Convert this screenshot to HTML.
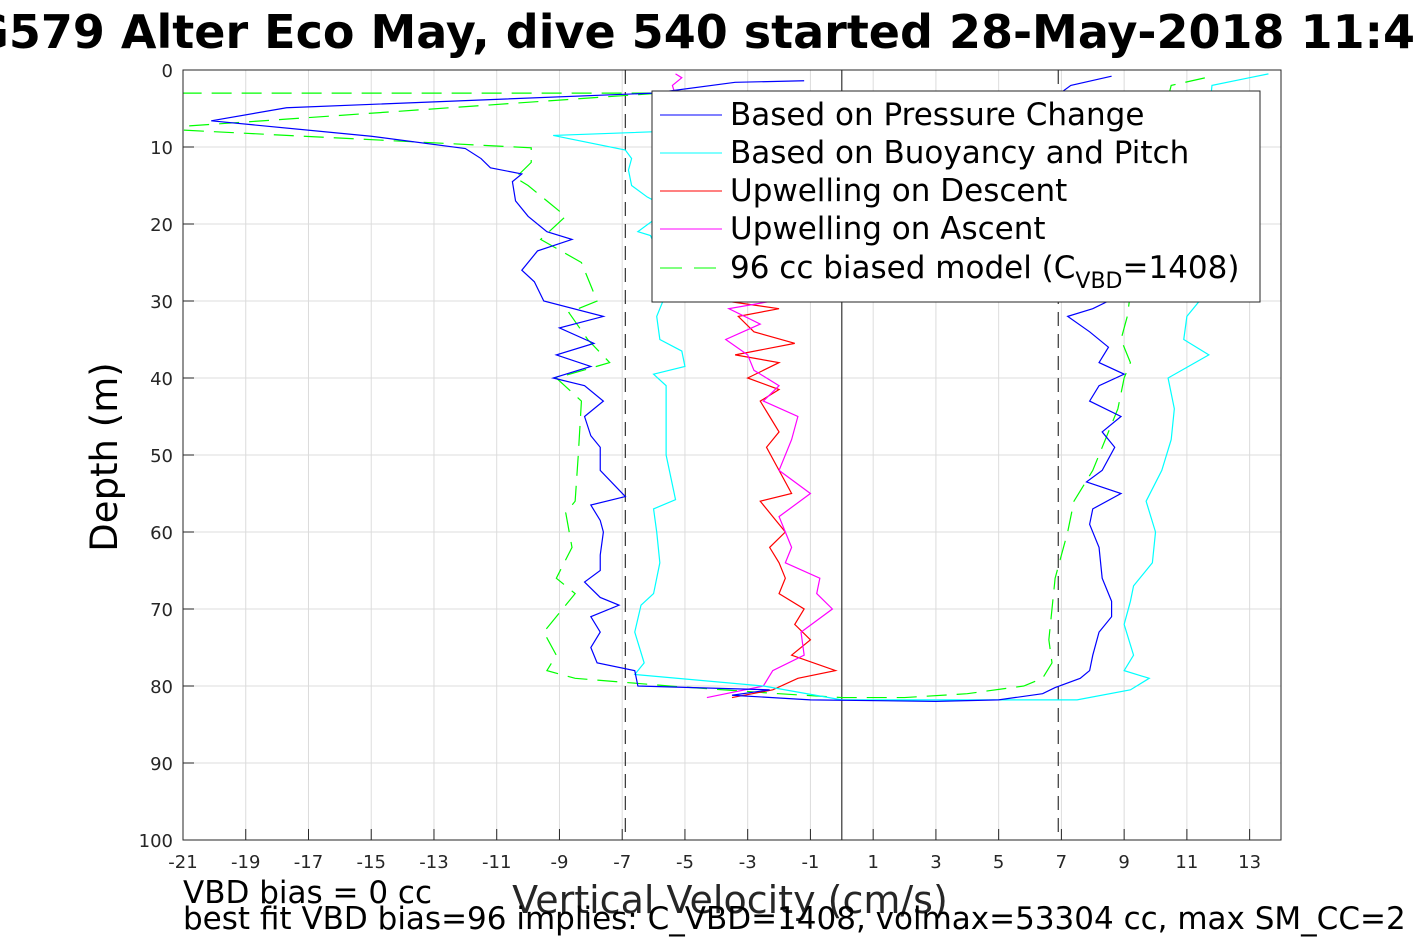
<!DOCTYPE html>
<html><head><meta charset="utf-8"><style>
body{margin:0;background:#fff;width:1417px;height:945px;overflow:hidden}
svg{font-family:"DejaVu Sans","Liberation Sans",sans-serif}
</style></head><body>
<svg id="chart" width="1417" height="945" xmlns="http://www.w3.org/2000/svg">
<text x="-62" y="48" font-size="46" font-weight="bold">SG579 Alter Eco May, dive 540 started 28-May-2018 11:49</text>
<g id="grid"></g>
<defs><clipPath id="clip"><rect x="183" y="70" width="1098" height="770"/></clipPath></defs>
<g id="series" clip-path="url(#clip)"></g>
<rect x="183" y="70" width="1098" height="770" fill="none" stroke="#262626" stroke-width="1"/>
<g id="ticks"></g>
<text transform="translate(117,457) rotate(-90)" text-anchor="middle" font-size="37">Depth (m)</text>
<text x="730" y="913" text-anchor="middle" font-size="38" fill="#262626">Vertical Velocity (cm/s)</text>
<text x="183" y="903" font-size="31">VBD bias = 0 cc</text>
<text x="183" y="929" font-size="31">best fit VBD bias=96 implies: C_VBD=1408, volmax=53304 cc, max SM_CC=2</text>
<g>
<rect x="652" y="91" width="608" height="211" fill="#fff" stroke="#262626" stroke-width="1"/>
<line x1="660" y1="115" x2="722" y2="115" stroke="#0000ff"/><text x="730" y="125" font-size="31">Based on Pressure Change</text>
<line x1="660" y1="153" x2="722" y2="153" stroke="#00ffff"/><text x="730" y="163" font-size="31">Based on Buoyancy and Pitch</text>
<line x1="660" y1="191" x2="722" y2="191" stroke="#ff0000"/><text x="730" y="201" font-size="31">Upwelling on Descent</text>
<line x1="660" y1="229" x2="722" y2="229" stroke="#ff00ff"/><text x="730" y="239" font-size="31">Upwelling on Ascent</text>
<line x1="660" y1="268" x2="722" y2="268" stroke="#00ff00" stroke-dasharray="22,12"/><text x="730" y="278" font-size="31">96 cc biased model (C<tspan font-size="22" dy="10">VBD</tspan><tspan dy="-10">=1408)</tspan></text>
</g>
</svg>
<script>
const xTicks=[-21,-19,-17,-15,-13,-11,-9,-7,-5,-3,-1,1,3,5,7,9,11,13];
const yTicks=[0,10,20,30,40,50,60,70,80,90,100];
const refLines=[-6.9,0,6.9];
const bluePts=[[1.4,-1.2],[1.6,-3.4],[3,-6],[4.9,-17.7],[6.6,-20.1],[8.6,-15],[10.2,-12],[11.5,-11.5],[12.7,-11.2],[13.5,-10.2],[14.5,-10.5],[17,-10.4],[19,-10],[21,-9.4],[22,-8.6],[23.5,-9.7],[26,-10.2],[27.5,-9.8],[30,-9.5],[32,-7.6],[33.5,-9],[35.5,-7.9],[37,-9.1],[38.5,-8],[40,-9.2],[41,-8.2],[43,-7.6],[45,-8.2],[47.5,-8],[49,-7.7],[52,-7.7],[55.4,-6.9],[56.5,-8],[58.5,-7.7],[60,-7.6],[63,-7.7],[65,-7.7],[66.5,-8.2],[68.5,-7.7],[69.5,-7.1],[71,-8],[73,-7.7],[75,-8],[77,-7.8],[78,-6.6],[80,-6.5],[80.5,-2.3],[81.2,-3.5],[81.8,-1],[82,3],[81.8,5],[81,6.4],[80.2,6.8],[79,7.6],[78,7.9],[76,8],[73,8.2],[71,8.6],[69,8.6],[66,8.3],[62,8.2],[59,7.9],[57,8],[55,8.9],[53.5,7.8],[52,8.3],[49,8.7],[47,8.3],[45,8.9],[43,7.9],[41,8.2],[39.5,9],[38,8.2],[36,8.5],[34,7.9],[32,7.2],[31,8],[30,8.5],[20,8.2],[10,7.5],[3.5,6.8],[2,7.3],[0.8,8.6]];
const cyanPts=[[7.8,-4.5],[8.5,-9.2],[10.4,-6.9],[11.5,-6.7],[13,-6.8],[15,-6.7],[16.5,-6.2],[18,-5.5],[21,-6.5],[21.5,-6.1],[25,-5.7],[30,-5.7],[32,-5.9],[35,-5.8],[36.5,-5.1],[38.5,-5],[39.5,-6],[41,-5.6],[45,-5.6],[50,-5.6],[55.8,-5.3],[57,-6],[60,-5.9],[64,-5.8],[68,-6],[69.5,-6.4],[73,-6.6],[77,-6.3],[78.5,-6.6],[80,-2.5],[81.8,0],[81.8,7.5],[80.5,9.2],[79,9.8],[78,9],[76,9.3],[72,9],[69,9.2],[67,9.3],[64,9.9],[60,10],[56,9.7],[52,10.2],[48,10.5],[44,10.6],[40,10.4],[37,11.7],[35,10.9],[32,11],[30,11.4],[20,11.5],[10,11.6],[2,11.8],[1,13],[0.5,13.6]];
const greenPts=[[3,-22],[3,-5.8],[7.6,-22],[10.1,-9.9],[12,-9.9],[14,-10.4],[15,-10],[19,-8.8],[22,-9.6],[25,-8.3],[30,-7.8],[31.5,-8.7],[35,-8.1],[38,-7.4],[40,-9.1],[43,-8.3],[50,-8.4],[56,-8.5],[57.5,-8.8],[62,-8.6],[66,-9.1],[68,-8.5],[73,-9.5],[76,-9.1],[78,-9.4],[79,-8.5],[80,-5.5],[81,-2],[81.5,0],[81.5,2],[81,4],[80,5.8],[79,6.4],[77,6.7],[74,6.6],[70,6.7],[66,6.8],[60,7.2],[56,7.4],[52,8],[48,8.4],[44,8.8],[40,9],[38,9.2],[35,8.9],[32,9.1],[20,9.5],[10,10],[2,10.5],[1,11.6]];
const redPts=[[30,-3.7],[31,-2],[32,-3.3],[34,-2.8],[35.5,-1.5],[37,-3.4],[38,-2],[40,-3],[41.5,-2],[43,-2.6],[45,-2.3],[47,-2],[49,-2.4],[52,-2],[55,-1.6],[56,-2.6],[58,-2.2],[60,-1.8],[62,-2.3],[64,-2],[66,-1.8],[68,-2],[70,-1.2],[72,-1.5],[74,-1],[76,-1.6],[78,-0.2],[79,-1.4],[80.5,-2.2],[81.5,-3.5]];
const magentaPts=[[81.5,-4.3],[80,-2.5],[78,-2.2],[76,-1.2],[73,-1.3],[70,-0.3],[68,-0.8],[66,-0.7],[64,-1.8],[62,-1.6],[58,-2],[55,-1],[52,-2],[48,-1.6],[45,-1.4],[43,-2.5],[41,-2],[39,-2.8],[37,-3],[35,-3.7],[33,-2.6],[31,-3.6],[30,-2.2],[20,-4],[10,-4.8],[2,-5.4],[1,-5.1],[0.5,-5.3]];
const NS='http://www.w3.org/2000/svg';
function X(v){return 183+(v+21)*1098/35;}
function Y(d){return 70+d*7.7;}
function mk(tag,attrs,parent){const e=document.createElementNS(NS,tag);for(const k in attrs)e.setAttribute(k,attrs[k]);parent.appendChild(e);return e;}
const grid=document.getElementById('grid'),ticks=document.getElementById('ticks'),ser=document.getElementById('series');
xTicks.forEach(t=>{
 const l=mk('line',{x1:X(t),x2:X(t),y1:70,y2:840,stroke:'#dcdcdc'},grid);
 
 
 const tk=mk('line',{x1:X(t),x2:X(t),y1:840,y2:829,stroke:'#262626'},ticks);
 
 
 const tx=mk('text',{x:X(t),y:868,'text-anchor':'middle','font-size':18,fill:'#262626'},ticks);
 tx.textContent=t;
 
 
});
yTicks.forEach(t=>{
 const l=mk('line',{x1:183,x2:1281,y1:Y(t),y2:Y(t),stroke:'#dcdcdc'},grid);
 
 
 const tk=mk('line',{x1:183,x2:194,y1:Y(t),y2:Y(t),stroke:'#262626'},ticks);
 
 
 const tx=mk('text',{x:173,y:Y(t)+7,'text-anchor':'end','font-size':18,fill:'#262626'},ticks);
 tx.textContent=t;
 
 
});
refLines.forEach(v=>{
 const l=mk('line',{x1:X(v),x2:X(v),y1:70,y2:840,stroke:'#333','stroke-width':1.2},ser);
 if(v!==0)l.setAttribute('stroke-dasharray','14,8');
 
 
});
function series(pts,color,name,dash){
 const p=mk('polyline',{points:pts.map(q=>X(q[1])+','+Y(q[0])).join(' '),fill:'none',stroke:color,'stroke-width':1.2},ser);
 if(dash)p.setAttribute('stroke-dasharray','20,10');
 
 
}
series(greenPts,'#00ff00','biased-model-line',true);
series(redPts,'#ff0000','upwelling-descent-line');
series(magentaPts,'#ff00ff','upwelling-ascent-line');
series(cyanPts,'#00ffff','buoyancy-pitch-line');
series(bluePts,'#0000ff','pressure-change-line');
</script>
</body></html>
